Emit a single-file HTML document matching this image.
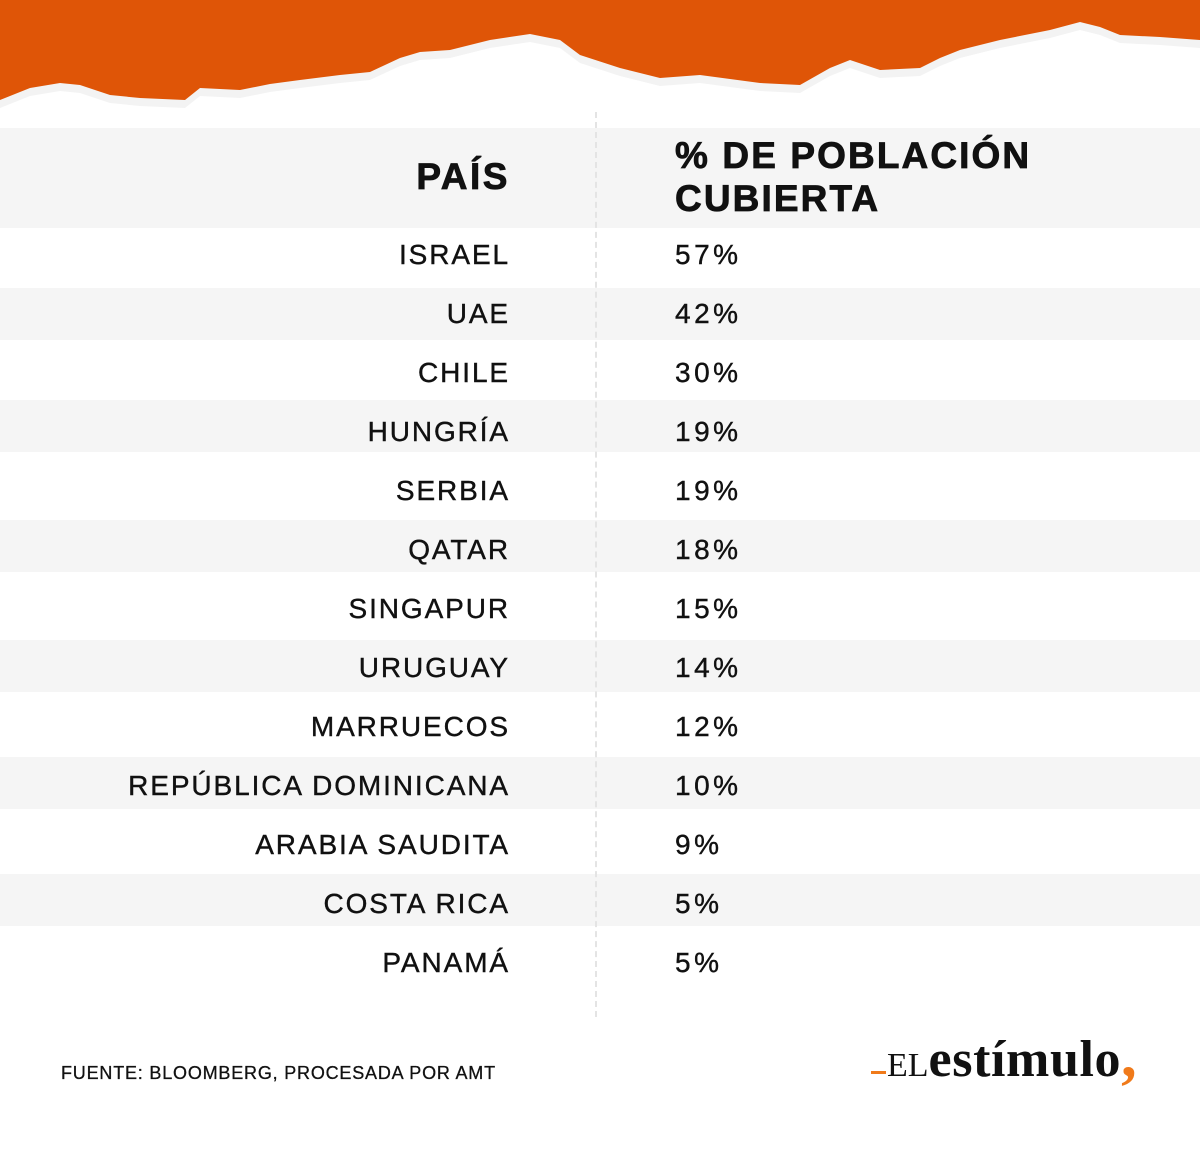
<!DOCTYPE html>
<html><head><meta charset="utf-8"><style>
body{margin:0;width:1200px;height:1154px;background:#fff;position:relative;overflow:hidden;font-family:"Liberation Sans",sans-serif;color:#111}
.band{position:absolute;left:0;width:1200px;background:#f5f5f5}
.c{position:absolute;right:690px;font-size:28px;letter-spacing:1.9px;transform:translateY(-50%);white-space:nowrap;-webkit-text-stroke:0.4px #111}
.v{position:absolute;left:675px;font-size:28px;letter-spacing:3.5px;transform:translateY(-50%);-webkit-text-stroke:0.4px #111}
.div{position:absolute;left:595px;top:112px;height:905px;border-left:2px dashed #e4e4e4}
</style></head><body>
<svg style="position:absolute;left:0;top:0" width="1200" height="130">
<polygon fill="#f3f3f3" points="0,0 1200,0 1200,48 1160,45 1120,43 1100,35 1080,30 1050,38 1000,48 960,58 940,66 920,76 880,78 850,68 830,76 800,93 760,91 700,83 660,86 620,76 580,63 560,48 530,42 490,48 450,58 420,60 400,66 370,80 340,83 300,88 270,92 240,98 200,96 185,108 140,106 110,103 80,93 60,91 30,96 0,108"/>
<polygon fill="#df5507" points="0,0 1200,0 1200,40 1160,37 1120,35 1100,27 1080,22 1050,30 1000,40 960,50 940,58 920,68 880,70 850,60 830,68 800,85 760,83 700,75 660,78 620,68 580,55 560,40 530,34 490,40 450,50 420,52 400,58 370,72 340,75 300,80 270,84 240,90 200,88 185,100 140,98 110,95 80,85 60,83 30,88 0,100"/>
</svg>
<div class="band" style="top:128px;height:100px"></div>
<div class="band" style="top:288px;height:52px"></div>
<div class="band" style="top:400px;height:52px"></div>
<div class="band" style="top:520px;height:52px"></div>
<div class="band" style="top:640px;height:52px"></div>
<div class="band" style="top:757px;height:52px"></div>
<div class="band" style="top:874px;height:52px"></div>
<div class="div"></div>
<div style="position:absolute;right:690px;top:156px;font-size:37px;font-weight:bold;letter-spacing:2.5px;-webkit-text-stroke:0.8px #111">PAÍS</div>
<div style="position:absolute;left:675px;top:134px;font-size:37px;font-weight:bold;letter-spacing:2.1px;line-height:43px;-webkit-text-stroke:0.8px #111">% DE POBLACIÓN<br>CUBIERTA</div>
<div class="c" style="top:255px">ISRAEL</div><div class="v" style="top:255px">57%</div>
<div class="c" style="top:314px">UAE</div><div class="v" style="top:314px">42%</div>
<div class="c" style="top:373px">CHILE</div><div class="v" style="top:373px">30%</div>
<div class="c" style="top:432px">HUNGRÍA</div><div class="v" style="top:432px">19%</div>
<div class="c" style="top:491px">SERBIA</div><div class="v" style="top:491px">19%</div>
<div class="c" style="top:550px">QATAR</div><div class="v" style="top:550px">18%</div>
<div class="c" style="top:609px">SINGAPUR</div><div class="v" style="top:609px">15%</div>
<div class="c" style="top:668px">URUGUAY</div><div class="v" style="top:668px">14%</div>
<div class="c" style="top:727px">MARRUECOS</div><div class="v" style="top:727px">12%</div>
<div class="c" style="top:786px">REPÚBLICA DOMINICANA</div><div class="v" style="top:786px">10%</div>
<div class="c" style="top:845px">ARABIA SAUDITA</div><div class="v" style="top:845px">9%</div>
<div class="c" style="top:904px">COSTA RICA</div><div class="v" style="top:904px">5%</div>
<div class="c" style="top:963px">PANAMÁ</div><div class="v" style="top:963px">5%</div>
<div style="position:absolute;left:61px;top:1063px;font-size:18px;letter-spacing:0.8px;-webkit-text-stroke:0.3px #111">FUENTE: BLOOMBERG, PROCESADA POR AMT</div>
<div style="position:absolute;left:871px;top:1030px;font-family:'Liberation Serif',serif;white-space:nowrap">
<span style="display:inline-block;width:15px;height:3px;background:#f07a1a;vertical-align:middle;margin-right:1px"></span><span style="font-size:34px">EL</span><span style="font-size:52px;font-weight:bold;letter-spacing:0.6px">estímulo</span><span style="font-size:62px;font-weight:bold;color:#f07a1a;line-height:0">,</span>
</div>
</body></html>
